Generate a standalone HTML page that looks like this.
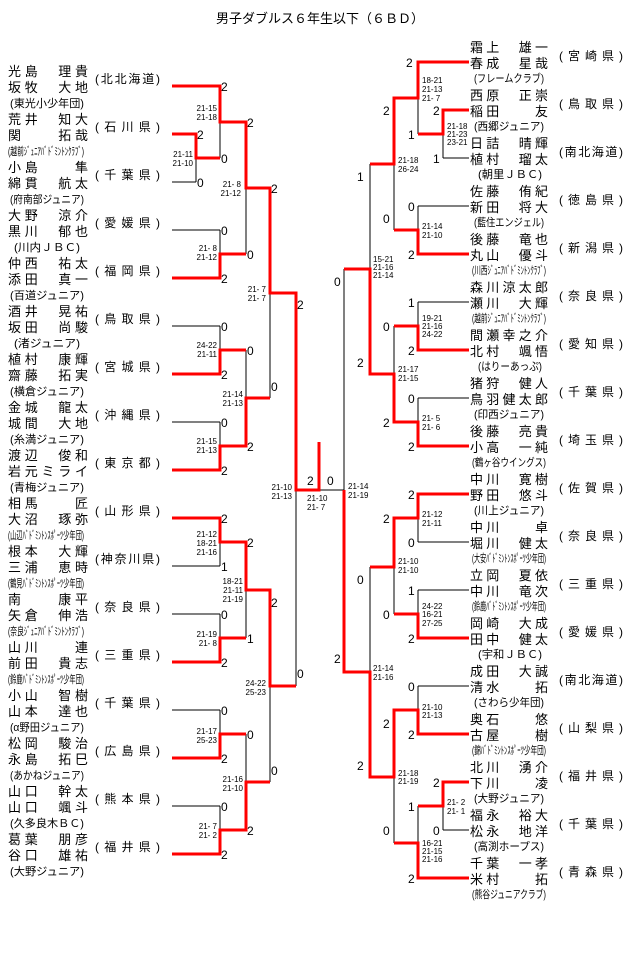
<!DOCTYPE html>
<html><head><meta charset="utf-8"><style>
html,body{margin:0;padding:0;background:#fff}
svg{display:block}
text{font-family:"Liberation Sans","Noto Sans CJK JP",sans-serif;fill:#000}
.n{font-size:13px}
.c{font-size:11px}
.p{font-size:12px}
.s{font-size:8px}
.g{font-size:12px}
.t{font-size:13px}
.r{stroke:#f00;stroke-width:3;fill:none}
.b{stroke:#000;stroke-width:1;fill:none}
</style></head><body>
<svg width="640" height="961" viewBox="0 0 640 961" xmlns="http://www.w3.org/2000/svg">
<text class="t" x="320" y="23" text-anchor="middle">男子ダブルス６年生以下（６ＢＤ）</text>

<g class="n">
<text x="8" y="76" textLength="80" lengthAdjust="spacing">光島　理貴</text><text x="8" y="92" textLength="80" lengthAdjust="spacing">坂牧　大地</text>
<text x="8" y="124" textLength="80" lengthAdjust="spacing">荒井　知大</text><text x="8" y="140" textLength="80" lengthAdjust="spacing">関　　拓哉</text>
<text x="8" y="172" textLength="80" lengthAdjust="spacing">小島　　隼</text><text x="8" y="188" textLength="80" lengthAdjust="spacing">綿貫　航太</text>
<text x="8" y="220" textLength="80" lengthAdjust="spacing">大野　涼介</text><text x="8" y="236" textLength="80" lengthAdjust="spacing">黒川　郁也</text>
<text x="8" y="268" textLength="80" lengthAdjust="spacing">仲西　祐太</text><text x="8" y="284" textLength="80" lengthAdjust="spacing">添田　真一</text>
<text x="8" y="316" textLength="80" lengthAdjust="spacing">酒井　晃祐</text><text x="8" y="332" textLength="80" lengthAdjust="spacing">坂田　尚駿</text>
<text x="8" y="364" textLength="80" lengthAdjust="spacing">植村　康輝</text><text x="8" y="380" textLength="80" lengthAdjust="spacing">齋藤　拓実</text>
<text x="8" y="412" textLength="80" lengthAdjust="spacing">金城　龍太</text><text x="8" y="428" textLength="80" lengthAdjust="spacing">城間　大地</text>
<text x="8" y="460" textLength="80" lengthAdjust="spacing">渡辺　俊和</text><text x="8" y="476" textLength="80" lengthAdjust="spacing">岩元ミライ</text>
<text x="8" y="508" textLength="80" lengthAdjust="spacing">相馬　　匠</text><text x="8" y="524" textLength="80" lengthAdjust="spacing">大沼　琢弥</text>
<text x="8" y="556" textLength="80" lengthAdjust="spacing">根本　大輝</text><text x="8" y="572" textLength="80" lengthAdjust="spacing">三浦　恵時</text>
<text x="8" y="604" textLength="80" lengthAdjust="spacing">南　　康平</text><text x="8" y="620" textLength="80" lengthAdjust="spacing">矢倉　伸浩</text>
<text x="8" y="652" textLength="80" lengthAdjust="spacing">山川　　連</text><text x="8" y="668" textLength="80" lengthAdjust="spacing">前田　貴志</text>
<text x="8" y="700" textLength="80" lengthAdjust="spacing">小山　智樹</text><text x="8" y="716" textLength="80" lengthAdjust="spacing">山本　達也</text>
<text x="8" y="748" textLength="80" lengthAdjust="spacing">松岡　駿治</text><text x="8" y="764" textLength="80" lengthAdjust="spacing">永島　拓巳</text>
<text x="8" y="796" textLength="80" lengthAdjust="spacing">山口　幹太</text><text x="8" y="812" textLength="80" lengthAdjust="spacing">山口　颯斗</text>
<text x="8" y="844" textLength="80" lengthAdjust="spacing">葛葉　朋彦</text><text x="8" y="860" textLength="80" lengthAdjust="spacing">谷口　雄祐</text>
</g>
<g class="c">
<text x="10" y="107" textLength="74" lengthAdjust="spacingAndGlyphs">(東光小少年団)</text>
<text x="8" y="155" textLength="76" lengthAdjust="spacingAndGlyphs">(越前ｼﾞｭﾆｱﾊﾞﾄﾞﾐﾝﾄﾝｸﾗﾌﾞ)</text>
<text x="10" y="203" textLength="74" lengthAdjust="spacingAndGlyphs">(府南部ジュニア)</text>
<text x="14" y="251" textLength="66" lengthAdjust="spacingAndGlyphs">(川内ＪＢＣ)</text>
<text x="10" y="299" textLength="74" lengthAdjust="spacingAndGlyphs">(百道ジュニア)</text>
<text x="14" y="347" textLength="66" lengthAdjust="spacingAndGlyphs">(渚ジュニア)</text>
<text x="10" y="395" textLength="74" lengthAdjust="spacingAndGlyphs">(横倉ジュニア)</text>
<text x="10" y="443" textLength="74" lengthAdjust="spacingAndGlyphs">(糸満ジュニア)</text>
<text x="10" y="491" textLength="74" lengthAdjust="spacingAndGlyphs">(青梅ジュニア)</text>
<text x="8" y="539" textLength="76" lengthAdjust="spacingAndGlyphs">(山辺ﾊﾞﾄﾞﾐﾝﾄﾝｽﾎﾟｰﾂ少年団)</text>
<text x="8" y="587" textLength="76" lengthAdjust="spacingAndGlyphs">(鶴見ﾊﾞﾄﾞﾐﾝﾄﾝｽﾎﾟｰﾂ少年団)</text>
<text x="8" y="635" textLength="76" lengthAdjust="spacingAndGlyphs">(奈良ｼﾞｭﾆｱﾊﾞﾄﾞﾐﾝﾄﾝｸﾗﾌﾞ)</text>
<text x="8" y="683" textLength="76" lengthAdjust="spacingAndGlyphs">(鈴鹿ﾊﾞﾄﾞﾐﾝﾄﾝｽﾎﾟｰﾂ少年団)</text>
<text x="10" y="731" textLength="74" lengthAdjust="spacingAndGlyphs">(α野田ジュニア)</text>
<text x="10" y="779" textLength="74" lengthAdjust="spacingAndGlyphs">(あかねジュニア)</text>
<text x="10" y="827" textLength="74" lengthAdjust="spacingAndGlyphs">(久多良木ＢＣ)</text>
<text x="10" y="875" textLength="74" lengthAdjust="spacingAndGlyphs">(大野ジュニア)</text>
</g>
<g class="p">
<text x="95" y="83" textLength="65" lengthAdjust="spacing">(北北海道)</text>
<text x="95" y="131" textLength="65" lengthAdjust="spacing">(石川県)</text>
<text x="95" y="179" textLength="65" lengthAdjust="spacing">(千葉県)</text>
<text x="95" y="227" textLength="65" lengthAdjust="spacing">(愛媛県)</text>
<text x="95" y="275" textLength="65" lengthAdjust="spacing">(福岡県)</text>
<text x="95" y="323" textLength="65" lengthAdjust="spacing">(鳥取県)</text>
<text x="95" y="371" textLength="65" lengthAdjust="spacing">(宮城県)</text>
<text x="95" y="419" textLength="65" lengthAdjust="spacing">(沖縄県)</text>
<text x="95" y="467" textLength="65" lengthAdjust="spacing">(東京都)</text>
<text x="95" y="515" textLength="65" lengthAdjust="spacing">(山形県)</text>
<text x="95" y="563" textLength="65" lengthAdjust="spacing">(神奈川県)</text>
<text x="95" y="611" textLength="65" lengthAdjust="spacing">(奈良県)</text>
<text x="95" y="659" textLength="65" lengthAdjust="spacing">(三重県)</text>
<text x="95" y="707" textLength="65" lengthAdjust="spacing">(千葉県)</text>
<text x="95" y="755" textLength="65" lengthAdjust="spacing">(広島県)</text>
<text x="95" y="803" textLength="65" lengthAdjust="spacing">(熊本県)</text>
<text x="95" y="851" textLength="65" lengthAdjust="spacing">(福井県)</text>
</g>

<g class="n">
<text x="470" y="52" textLength="78" lengthAdjust="spacing">霜上　雄一</text><text x="470" y="68" textLength="78" lengthAdjust="spacing">春成　星哉</text>
<text x="470" y="100" textLength="78" lengthAdjust="spacing">西原　正崇</text><text x="470" y="116" textLength="78" lengthAdjust="spacing">稲田　　友</text>
<text x="470" y="148" textLength="78" lengthAdjust="spacing">日詰　晴輝</text><text x="470" y="164" textLength="78" lengthAdjust="spacing">植村　瑠太</text>
<text x="470" y="196" textLength="78" lengthAdjust="spacing">佐藤　侑紀</text><text x="470" y="212" textLength="78" lengthAdjust="spacing">新田　将大</text>
<text x="470" y="244" textLength="78" lengthAdjust="spacing">後藤　竜也</text><text x="470" y="260" textLength="78" lengthAdjust="spacing">丸山　優斗</text>
<text x="470" y="292" textLength="78" lengthAdjust="spacing">森川涼太郎</text><text x="470" y="308" textLength="78" lengthAdjust="spacing">瀬川　大輝</text>
<text x="470" y="340" textLength="78" lengthAdjust="spacing">間瀬幸之介</text><text x="470" y="356" textLength="78" lengthAdjust="spacing">北村　颯悟</text>
<text x="470" y="388" textLength="78" lengthAdjust="spacing">猪狩　健人</text><text x="470" y="404" textLength="78" lengthAdjust="spacing">鳥羽健太郎</text>
<text x="470" y="436" textLength="78" lengthAdjust="spacing">後藤　亮貴</text><text x="470" y="452" textLength="78" lengthAdjust="spacing">小高　一純</text>
<text x="470" y="484" textLength="78" lengthAdjust="spacing">中川　寛樹</text><text x="470" y="500" textLength="78" lengthAdjust="spacing">野田　悠斗</text>
<text x="470" y="532" textLength="78" lengthAdjust="spacing">中川　　卓</text><text x="470" y="548" textLength="78" lengthAdjust="spacing">堀川　健太</text>
<text x="470" y="580" textLength="78" lengthAdjust="spacing">立岡　夏依</text><text x="470" y="596" textLength="78" lengthAdjust="spacing">中川　竜次</text>
<text x="470" y="628" textLength="78" lengthAdjust="spacing">岡崎　大成</text><text x="470" y="644" textLength="78" lengthAdjust="spacing">田中　健太</text>
<text x="470" y="676" textLength="78" lengthAdjust="spacing">成田　大誠</text><text x="470" y="692" textLength="78" lengthAdjust="spacing">清水　　拓</text>
<text x="470" y="724" textLength="78" lengthAdjust="spacing">奥石　　悠</text><text x="470" y="740" textLength="78" lengthAdjust="spacing">古屋　　樹</text>
<text x="470" y="772" textLength="78" lengthAdjust="spacing">北川　湧介</text><text x="470" y="788" textLength="78" lengthAdjust="spacing">下川　　凌</text>
<text x="470" y="820" textLength="78" lengthAdjust="spacing">福永　裕大</text><text x="470" y="836" textLength="78" lengthAdjust="spacing">松永　地洋</text>
<text x="470" y="868" textLength="78" lengthAdjust="spacing">千葉　一孝</text><text x="470" y="884" textLength="78" lengthAdjust="spacing">米村　　拓</text>
</g>
<g class="c">
<text x="474" y="82" textLength="70" lengthAdjust="spacingAndGlyphs">(フレームクラブ)</text>
<text x="474" y="130" textLength="70" lengthAdjust="spacingAndGlyphs">(西郷ジュニア)</text>
<text x="478" y="178" textLength="64" lengthAdjust="spacingAndGlyphs">(朝里ＪＢＣ)</text>
<text x="474" y="226" textLength="70" lengthAdjust="spacingAndGlyphs">(藍住エンジェル)</text>
<text x="472" y="274" textLength="74" lengthAdjust="spacingAndGlyphs">(川西ｼﾞｭﾆｱﾊﾞﾄﾞﾐﾝﾄﾝｸﾗﾌﾞ)</text>
<text x="472" y="322" textLength="74" lengthAdjust="spacingAndGlyphs">(越前ｼﾞｭﾆｱﾊﾞﾄﾞﾐﾝﾄﾝｸﾗﾌﾞ)</text>
<text x="478" y="370" textLength="64" lengthAdjust="spacingAndGlyphs">(はりーあっぷ)</text>
<text x="474" y="418" textLength="70" lengthAdjust="spacingAndGlyphs">(印西ジュニア)</text>
<text x="472" y="466" textLength="74" lengthAdjust="spacingAndGlyphs">(鶴ヶ谷ウイングス)</text>
<text x="474" y="514" textLength="70" lengthAdjust="spacingAndGlyphs">(川上ジュニア)</text>
<text x="472" y="562" textLength="74" lengthAdjust="spacingAndGlyphs">(大安ﾊﾞﾄﾞﾐﾝﾄﾝｽﾎﾟｰﾂ少年団)</text>
<text x="472" y="610" textLength="74" lengthAdjust="spacingAndGlyphs">(鈴鹿ﾊﾞﾄﾞﾐﾝﾄﾝｽﾎﾟｰﾂ少年団)</text>
<text x="478" y="658" textLength="64" lengthAdjust="spacingAndGlyphs">(宇和ＪＢＣ)</text>
<text x="474" y="706" textLength="70" lengthAdjust="spacingAndGlyphs">(さわら少年団)</text>
<text x="472" y="754" textLength="74" lengthAdjust="spacingAndGlyphs">(錦ﾊﾞﾄﾞﾐﾝﾄﾝｽﾎﾟｰﾂ少年団)</text>
<text x="474" y="802" textLength="70" lengthAdjust="spacingAndGlyphs">(大野ジュニア)</text>
<text x="474" y="850" textLength="70" lengthAdjust="spacingAndGlyphs">(高渕ホープス)</text>
<text x="472" y="898" textLength="74" lengthAdjust="spacingAndGlyphs">(熊谷ジュニアクラブ)</text>
</g>
<g class="p">
<text x="559" y="60" textLength="64" lengthAdjust="spacing">(宮崎県)</text>
<text x="559" y="108" textLength="64" lengthAdjust="spacing">(鳥取県)</text>
<text x="559" y="156" textLength="64" lengthAdjust="spacing">(南北海道)</text>
<text x="559" y="204" textLength="64" lengthAdjust="spacing">(徳島県)</text>
<text x="559" y="252" textLength="64" lengthAdjust="spacing">(新潟県)</text>
<text x="559" y="300" textLength="64" lengthAdjust="spacing">(奈良県)</text>
<text x="559" y="348" textLength="64" lengthAdjust="spacing">(愛知県)</text>
<text x="559" y="396" textLength="64" lengthAdjust="spacing">(千葉県)</text>
<text x="559" y="444" textLength="64" lengthAdjust="spacing">(埼玉県)</text>
<text x="559" y="492" textLength="64" lengthAdjust="spacing">(佐賀県)</text>
<text x="559" y="540" textLength="64" lengthAdjust="spacing">(奈良県)</text>
<text x="559" y="588" textLength="64" lengthAdjust="spacing">(三重県)</text>
<text x="559" y="636" textLength="64" lengthAdjust="spacing">(愛媛県)</text>
<text x="559" y="684" textLength="64" lengthAdjust="spacing">(南北海道)</text>
<text x="559" y="732" textLength="64" lengthAdjust="spacing">(山梨県)</text>
<text x="559" y="780" textLength="64" lengthAdjust="spacing">(福井県)</text>
<text x="559" y="828" textLength="64" lengthAdjust="spacing">(千葉県)</text>
<text x="559" y="876" textLength="64" lengthAdjust="spacing">(青森県)</text>
</g>

<path class="b" d="
M196 158V182 M172 182H196
M220 122V158
M172 230H220 M220 230V254
M246 188V254
M172 326H220 M220 326V350
M172 422H220 M220 422V446
M246 350V398
M270 293V398
M220 542V566 M172 566H220
M172 614H220 M220 614V638
M246 590V638
M172 710H220 M220 710V734
M172 806H220 M220 806V830
M246 734V782
M270 686V782
M296 490V686
M319 490H344
M344 269V490
"/>
<path class="r" d="
M172 86H220V122H246V188H270V293H296V490H319V442
M172 134H196V158H220
M172 278H220V254H246
M172 374H220V350H246
M172 470H220V446H246V398H270
M172 518H220V542H246V590H270V686H296
M172 662H220V638H246
M172 758H220V734H246
M172 854H220V830H246V782H270
"/>
<path class="b" d="
M443 134V158 M443 158H469
M418 98V134
M418 206H469 M418 206V230
M394 164V230
M418 302H469 M418 302V326
M418 398H469 M418 398V422
M394 326V374
M370 164V269
M418 542H469 M418 518V542
M418 590H469 M418 590V614
M394 567V614
M418 686H469 M418 686V710
M443 806V830 M443 830H469
M418 806V843
M394 777V843
M370 567V672
"/>
<path class="r" d="
M469 62H418V98H394V164H370
M469 110H443V134H418
M469 254H418V230H394
M469 350H418V326H394
M469 446H418V422H394V374H370V269H344
M469 494H418V518H394V567H370
M469 638H418V614H394
M469 734H418V710H394V777H370V672H344V490
M469 782H443V806H418
M469 878H418V843H394
"/>

<g class="g">
<text x="221" y="91">2</text><text x="197" y="139">2</text><text x="197" y="187">0</text>
<text x="221" y="163">0</text><text x="247" y="127">2</text>
<text x="221" y="235">0</text><text x="221" y="283">2</text><text x="247" y="259">0</text>
<text x="271" y="193">2</text>
<text x="221" y="331">0</text><text x="221" y="379">2</text><text x="247" y="355">0</text>
<text x="221" y="427">0</text><text x="221" y="475">2</text><text x="247" y="451">2</text>
<text x="271" y="391">0</text><text x="297" y="309">2</text>
<text x="221" y="523">2</text><text x="221" y="571">1</text><text x="247" y="547">2</text>
<text x="221" y="619">0</text><text x="221" y="667">2</text><text x="247" y="643">1</text>
<text x="271" y="607">2</text>
<text x="221" y="715">0</text><text x="221" y="763">2</text><text x="247" y="739">0</text>
<text x="221" y="811">0</text><text x="221" y="859">2</text><text x="247" y="835">2</text>
<text x="271" y="775">0</text><text x="297" y="678">0</text>
<text x="307" y="485">2</text><text x="327" y="485">0</text>
<text x="334" y="286">0</text><text x="334" y="663">2</text>

<text x="406" y="67">2</text><text x="433" y="115">2</text><text x="433" y="163">1</text>
<text x="408" y="139">1</text><text x="383" y="115">2</text>
<text x="408" y="211">0</text><text x="408" y="259">2</text><text x="383" y="223">0</text>
<text x="357" y="181">1</text>
<text x="408" y="307">1</text><text x="408" y="355">2</text><text x="383" y="331">0</text>
<text x="408" y="403">0</text><text x="408" y="451">2</text><text x="383" y="427">2</text>
<text x="357" y="367">2</text>
<text x="408" y="499">2</text><text x="408" y="547">0</text><text x="383" y="523">2</text>
<text x="408" y="595">1</text><text x="408" y="643">2</text><text x="383" y="619">0</text>
<text x="357" y="584">0</text>
<text x="408" y="691">0</text><text x="408" y="739">2</text><text x="383" y="728">2</text>
<text x="433" y="787">2</text><text x="433" y="835">0</text><text x="408" y="811">1</text>
<text x="408" y="883">2</text><text x="383" y="835">0</text>
<text x="357" y="770">2</text>
</g>

<g class="s" text-anchor="end">
<text x="217" y="111">21-15</text><text x="217" y="120">21-18</text>
<text x="193" y="157">21-11</text><text x="193" y="166">21-10</text>
<text x="241" y="187">21- 8</text><text x="241" y="196">21-12</text>
<text x="217" y="251">21- 8</text><text x="217" y="260">21-12</text>
<text x="266" y="292">21- 7</text><text x="266" y="301">21- 7</text>
<text x="217" y="348">24-22</text><text x="217" y="357">21-11</text>
<text x="243" y="397">21-14</text><text x="243" y="406">21-13</text>
<text x="217" y="444">21-15</text><text x="217" y="453">21-13</text>
<text x="292" y="490">21-10</text><text x="292" y="499">21-13</text>
<text x="217" y="537">21-12</text><text x="217" y="546">18-21</text><text x="217" y="555">21-16</text>
<text x="243" y="584">18-21</text><text x="243" y="593">21-11</text><text x="243" y="602">21-19</text>
<text x="217" y="637">21-19</text><text x="217" y="646">21- 8</text>
<text x="266" y="686">24-22</text><text x="266" y="695">25-23</text>
<text x="217" y="734">21-17</text><text x="217" y="743">25-23</text>
<text x="243" y="782">21-16</text><text x="243" y="791">21-10</text>
<text x="217" y="829">21- 7</text><text x="217" y="838">21- 2</text>
</g>
<g class="s">
<text x="307" y="501">21-10</text><text x="307" y="510">21- 7</text>
<text x="348" y="489">21-14</text><text x="348" y="498">21-19</text>
<text x="422" y="83">18-21</text><text x="422" y="92">21-13</text><text x="422" y="101">21- 7</text>
<text x="447" y="129">21-18</text><text x="447" y="137">21-23</text><text x="447" y="145">23-21</text>
<text x="398" y="163">21-18</text><text x="398" y="172">26-24</text>
<text x="422" y="229">21-14</text><text x="422" y="238">21-10</text>
<text x="373" y="262">15-21</text><text x="373" y="270">21-16</text><text x="373" y="278">21-14</text>
<text x="422" y="321">19-21</text><text x="422" y="329">21-16</text><text x="422" y="337">24-22</text>
<text x="398" y="372">21-17</text><text x="398" y="381">21-15</text>
<text x="422" y="421">21- 5</text><text x="422" y="430">21- 6</text>
<text x="422" y="517">21-12</text><text x="422" y="526">21-11</text>
<text x="398" y="564">21-10</text><text x="398" y="573">21-10</text>
<text x="422" y="609">24-22</text><text x="422" y="617">16-21</text><text x="422" y="626">27-25</text>
<text x="373" y="671">21-14</text><text x="373" y="680">21-16</text>
<text x="422" y="710">21-10</text><text x="422" y="718">21-13</text>
<text x="398" y="776">21-18</text><text x="398" y="784">21-19</text>
<text x="447" y="805">21- 2</text><text x="447" y="814">21- 1</text>
<text x="422" y="846">16-21</text><text x="422" y="854">21-15</text><text x="422" y="862">21-16</text>
</g>
</svg>
</body></html>
